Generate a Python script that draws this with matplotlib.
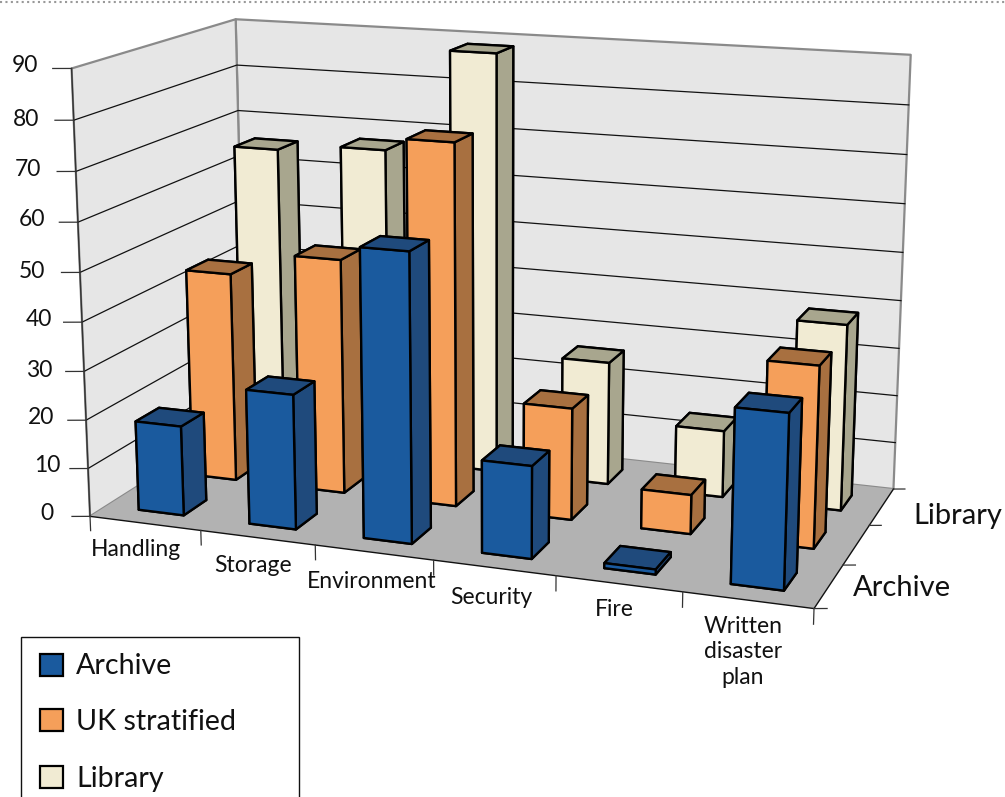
import numpy as np
import matplotlib
matplotlib.use('Agg')
import matplotlib.pyplot as plt
from matplotlib.lines import Line2D
from matplotlib.patches import Rectangle
from mpl_toolkits.mplot3d.art3d import Poly3DCollection

categories = ['Handling', 'Storage', 'Environment', 'Security', 'Fire', 'Written\ndisaster\nplan']
series_names = ['Archive', 'UK stratified', 'Library']
archive = [18.5, 27.5, 58, 18.5, 1, 34]
uk_stratified = [44, 49, 74.5, 23, 8, 36.5]
library = [65.5, 67, 88.5, 26, 14, 38.5]
z_ticks = [0, 10, 20, 30, 40, 50, 60, 70, 80, 90]

W, H = 1005, 797
plt.rcParams['font.family'] = ['Lato', 'DejaVu Sans']
INK = '#111111'


def fx(x):
    return x / W


def fy(y):
    return 1 - y / H


fig = plt.figure(figsize=(W / 100, H / 100), dpi=100)
# the 3D box is fitted into a square, kept large so the walls are not clipped
side = 1200
cx, cy = 482, 303
ax = fig.add_axes([(cx - side / 2) / W, fy(cy + side / 2), side / W, side / H], projection='3d', computed_zorder=False)
ax.patch.set_alpha(0)
ax.set_proj_type('persp', focal_length=0.39)
ax.view_init(elev=14, azim=-70)
ax.set_xlim(0, 6)
ax.set_ylim(0, 3)
ax.set_zlim(0, 90)
ax.set_box_aspect((743, 362, 455), zoom=0.762)
ax.set_axis_off()

# walls and floor
floor = [[(0, 0, 0), (6, 0, 0), (6, 3, 0), (0, 3, 0)]]
walls = [[(0, 0, 0), (0, 3, 0), (0, 3, 90), (0, 0, 90)],
         [(0, 3, 0), (6, 3, 0), (6, 3, 90), (0, 3, 90)]]
ax.add_collection3d(Poly3DCollection(walls, facecolors='#e6e6e6', edgecolors='#8a8a8a',
                                     linewidths=1.6, zorder=1))
ax.add_collection3d(Poly3DCollection(floor, facecolors='#b2b2b2', edgecolors='none', zorder=2))

for z in z_ticks[1:-1]:
    ax.plot([0, 0, 6], [0, 3, 3], [z, z, z], color=INK, lw=0.9, zorder=3)

# axis lines and tick marks
ax.plot([0, 6, 6], [0, 0, 3], [0, 0, 0], color=INK, lw=1.0, zorder=4)
ax.plot([0, 0], [0, 0], [0, 90], color='#333333', lw=1.0, zorder=4)
for z in z_ticks:
    ax.plot([0, -0.137], [0, -0.053], [z, z], color='#333333', lw=0.9, zorder=4)
for i in range(7):
    ax.plot([i, i], [0, 0], [0, -3], color='#333333', lw=0.9, zorder=4)
for j in range(4):
    ax.plot([6, 6.09], [j, j + 0.035], [0, 0], color='#333333', lw=0.9, zorder=4)

# bars, back row first
bar_w = 0.41
bar_d = 0.42
bar_colors = [('#1a5a9e', '#1f4a7c'), ('#f59f5a', '#a87040'), ('#f1ebd3', '#a8a68e')]
values = [archive, uk_stratified, library]
order = 10
for j in [2, 1, 0]:
    front, dark = bar_colors[j]
    for i in range(len(categories)):
        ax.bar3d(i + 0.5 - bar_w / 2, j + 0.5 - bar_d / 2, 0, bar_w, bar_d, values[j][i],
                 color=[dark, dark, front, dark, dark, dark], edgecolor='black',
                 linewidth=1.7, shade=False, zorder=order)
        order += 1

# value axis labels
z_label_xy = [(47, 513), (47, 465), (41, 418), (39, 370), (39, 320), (32, 271), (32, 220), (28, 169), (26, 119), (25, 65)]
for z, (px, py) in zip(z_ticks, z_label_xy):
    fig.text(fx(px), fy(py), str(z), fontsize=16.5, color=INK, ha='center', va='center')

cat_label_xy = [(136, 549), (253, 565), (372, 581), (491, 597), (614, 610), (743, 652)]
for name, (px, py) in zip(categories, cat_label_xy):
    fig.text(fx(px), fy(py), name, fontsize=16.5, color=INK, ha='center', va='center', linespacing=1.29)

fig.text(fx(958), fy(516), 'Library', fontsize=21, color=INK, ha='center', va='center')
fig.text(fx(902), fy(588), 'Archive', fontsize=21, color=INK, ha='center', va='center')

# legend box runs off the bottom edge
fig.add_artist(Rectangle((fx(20.5), fy(800)), fx(278), 163 / H, facecolor='white', edgecolor=INK, lw=1.0,
                         transform=fig.transFigure, zorder=20))
for k, (name, py) in enumerate(zip(series_names, [665, 720, 777])):
    fig.add_artist(Rectangle((fx(40), fy(py + 11)), fx(23), 22 / H, facecolor=bar_colors[k][0],
                             edgecolor='black', lw=1.6, transform=fig.transFigure, zorder=21))
    fig.text(fx(76), fy(py + 1.5), name, fontsize=20.6, color=INK, ha='left', va='center', zorder=22)

# dotted rule along the top
fig.add_artist(Line2D([0, 1], [fy(2), fy(2)], color='#999999', lw=1.5, ls=(0, (1, 1.6)), transform=fig.transFigure))

fig.savefig('out.png', dpi=100)
